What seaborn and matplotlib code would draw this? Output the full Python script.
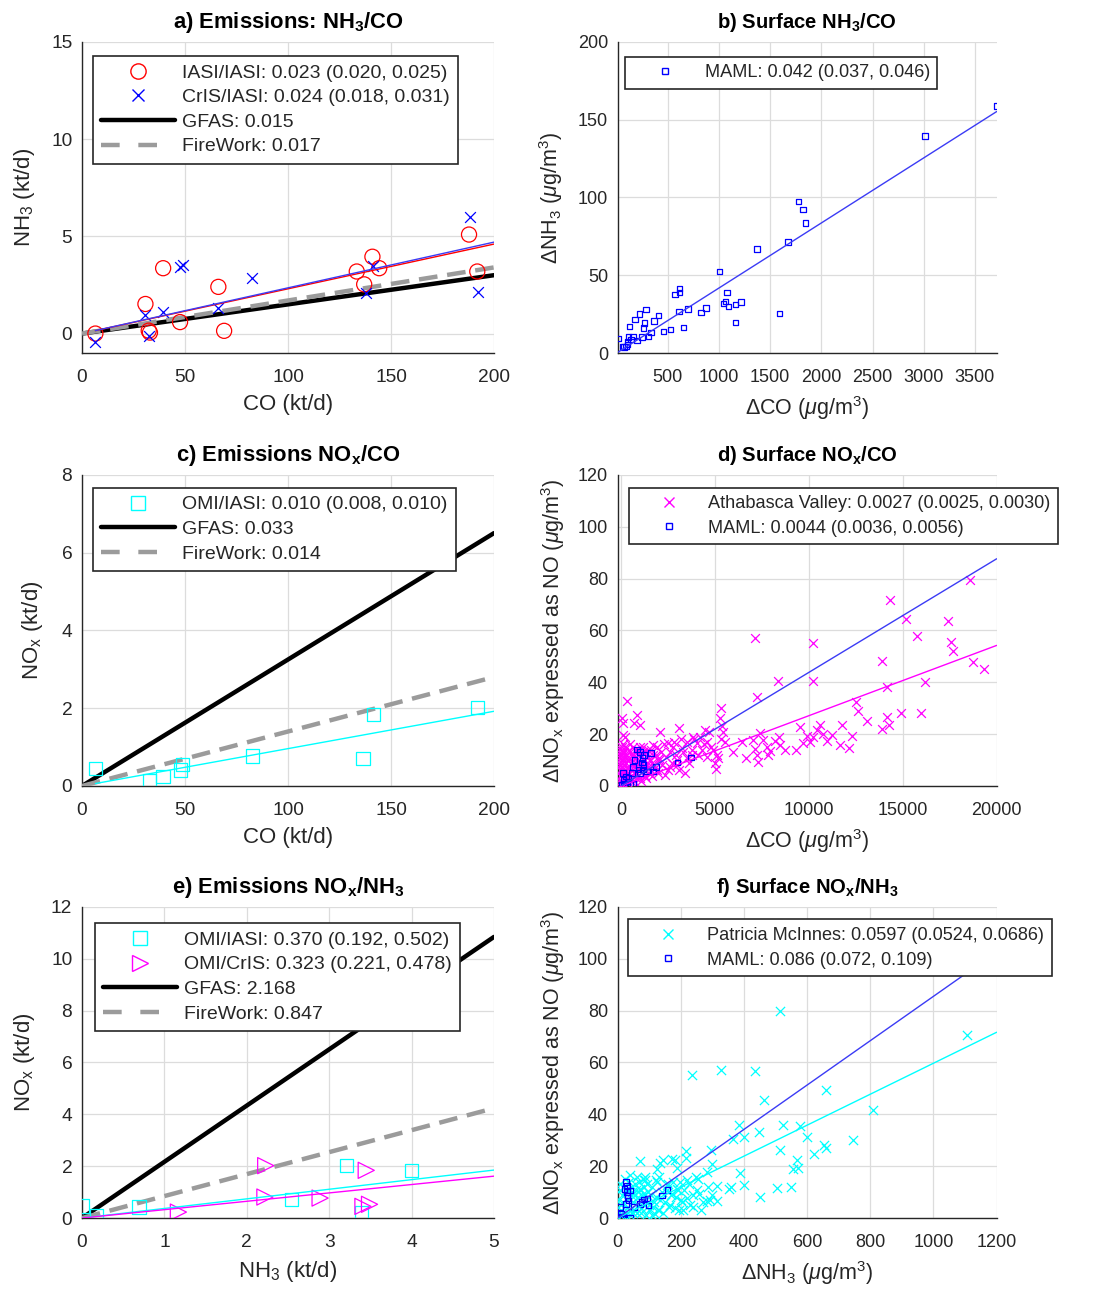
import numpy as np
import matplotlib
matplotlib.use("Agg")
import matplotlib.pyplot as plt
from matplotlib.lines import Line2D
import seaborn as sns

sns.set_style("white")
plt.rcParams['font.family'] = ['Liberation Sans', 'DejaVu Sans']
plt.rcParams['mathtext.fontset'] = 'custom'
plt.rcParams['mathtext.rm'] = 'Liberation Sans'
plt.rcParams['mathtext.it'] = 'Liberation Sans:italic'
plt.rcParams['mathtext.bf'] = 'Liberation Sans:bold'
plt.rcParams['mathtext.default'] = 'regular'

# ---------------- data ----------------
# a) emissions NH3 vs CO (kt/d)
a_iasi_co = [6.5, 30.8, 32.4, 33.0, 39.4, 47.6, 66.2, 69.0, 133.4, 137.0, 141.0, 144.3, 187.9, 191.9]
a_iasi_nh3 = [0.0, 1.52, 0.15, 0.05, 3.36, 0.59, 2.40, 0.14, 3.19, 2.53, 3.95, 3.36, 5.09, 3.19]
a_cris_co = [6.5, 30.8, 32.4, 39.4, 47.6, 49.0, 66.2, 82.6, 137.8, 141.5, 188.3, 192.4]
a_cris_nh3 = [-0.43, 0.95, -0.12, 1.12, 3.40, 3.50, 1.29, 2.88, 2.07, 3.45, 6.0, 2.16]
a_fit_slopes = [0.023, 0.0235]           # IASI/IASI, CrIS/IASI
a_inv_slopes = [0.015, 0.017]            # GFAS, FireWork
a_labels = ["IASI/IASI: 0.023 (0.020, 0.025)", "CrIS/IASI: 0.024 (0.018, 0.031)",
            "GFAS: 0.015", "FireWork: 0.017"]

# b) surface NH3 vs CO, MAML
b_maml_co = [12, 57, 74, 93, 106, 106, 116, 126, 139, 158, 181, 197, 223, 246, 262, 272, 288,
             311, 334, 367, 409, 458, 526, 572, 607, 614, 614, 653, 695, 822, 871, 1004, 1043,
             1063, 1076, 1092, 1161, 1161, 1216, 1369, 1590, 1675, 1776, 1818, 1844, 3012, 3712]
b_maml_nh3 = [9.2, 4.3, 3.9, 4.3, 5.4, 7.5, 10.3, 17.1, 8.6, 10.7, 21.4, 8.1, 25.1, 10.3, 16.1,
              19.3, 27.9, 10.7, 13.3, 20.4, 24.0, 13.9, 15.0, 37.7, 26.8, 41.4, 39.0, 16.5, 28.3,
              26.1, 28.9, 52.5, 31.7, 33.2, 39.0, 30.0, 31.1, 19.7, 32.8, 67.0, 25.3, 71.4, 97.5,
              92.1, 83.6, 139.3, 158.6]
b_fit_slope = 0.0418
b_labels = ["MAML: 0.042 (0.037, 0.046)"]

# c) emissions NOx vs CO (kt/d)
c_omi_co = [6.5, 32.7, 39.4, 47.9, 48.7, 82.8, 136.5, 141.4, 191.9]
c_omi_nox = [0.45, 0.13, 0.24, 0.41, 0.56, 0.77, 0.71, 1.84, 2.02]
c_fit_slope = 0.0096
c_inv_slopes = [0.0325, 0.014]           # GFAS, FireWork
c_labels = ["OMI/IASI: 0.010 (0.008, 0.010)", "GFAS: 0.033", "FireWork: 0.014"]

# d) surface NOx vs CO: Athabasca Valley (x) and MAML (squares)
d_athabasca = np.array([
    [7134, 56.9], [7241, 34.4], [8376, 40.6], [10240, 55.2], [10240, 40.6], [14321, 71.9],
    [13877, 48.3], [14144, 38.0], [15155, 64.2], [15741, 58.0], [17427, 63.5], [17551, 55.5],
    [17693, 52.0], [18581, 79.6], [18758, 47.9], [19343, 45.2], [16185, 40.2], [15972, 28.2],
    [14889, 28.2], [12511, 32.5], [12635, 28.9], [13079, 25.2], [13877, 22.0], [14144, 26.7],
    [14286, 23.5], [12298, 19.4], [12156, 14.5], [11748, 23.4], [11660, 15.8], [11216, 19.6],
    [10950, 17.5], [10737, 20.0], [10595, 23.5], [10418, 21.6], [10240, 18.7], [10062, 17.1],
    [9885, 19.3], [9707, 16.4], [9530, 22.8], [9317, 13.9], [8731, 13.9], [8465, 15.8],
    [8429, 19.0], [8198, 17.5], [7933, 13.6], [7844, 11.9], [7755, 15.1], [7542, 17.7],
    [7400, 20.3], [7311, 9.4], [7258, 11.9], [7134, 14.1], [7045, 17.7], [6655, 10.7],
    [6442, 17.1], [5981, 13.2], [5537, 17.1], [5413, 20.9], [5306, 29.9], [5271, 26.1],
    [5182, 10.7], [5058, 6.4], [5004, 8.7], [4916, 13.9], [4561, 17.1], [4472, 21.6],
    [4295, 13.9], [4028, 16.4], [3851, 19.0], [3762, 11.9], [3496, 10.7], [3407, 4.9],
    [3230, 14.5], [3106, 22.5], [2964, 8.1], [2786, 15.1], [2609, 7.4], [2520, 16.7],
    [2343, 4.2], [2076, 20.9], [2041, 10.7], [1899, 6.2], [1721, 15.8], [1544, 10.0],
    [1366, 6.8], [1012, 23.7], [834, 27.3], [692, 24.1], [302, 32.9], [124, 24.1],
    [35, 26.4], [124, 19.6], [231, 19.0],
    [50, 1], [80, 3], [120, 5], [150, 8], [200, 2], [30, 12], [60, 15], [100, 10], [180, 13],
    [220, 6], [260, 9], [300, 4], [350, 11], [400, 7], [420, 14], [480, 3], [520, 9], [560, 12],
    [600, 6], [650, 15], [700, 2], [750, 8], [800, 11], [850, 5], [900, 14], [950, 9], [1000, 3],
    [1050, 12], [1100, 7], [1150, 15], [1200, 10], [1250, 4], [1300, 13], [1400, 8], [1450, 11],
    [1500, 5], [1600, 14], [1650, 9], [1700, 12], [1800, 7], [1900, 15], [2000, 10], [2100, 13],
    [2200, 8], [2300, 16], [2400, 11], [2500, 6], [2600, 13], [2700, 9], [2800, 17], [2900, 12],
    [3000, 10], [3100, 6], [3200, 18], [3300, 13], [3500, 17], [3600, 9], [3800, 14], [3900, 18],
    [4100, 12], [4200, 19], [4400, 16], [4600, 11], [4700, 21], [4800, 15], [5100, 12],
    [5300, 18], [5400, 23],
    [20, 2], [40, 6], [70, 9], [90, 13], [110, 1], [130, 4], [160, 11], [190, 15], [240, 3],
    [280, 12], [320, 7], [360, 1], [380, 10], [440, 5], [460, 16], [500, 13], [540, 2], [580, 8],
    [620, 11], [680, 5], [720, 14], [780, 3], [820, 9], [880, 7], [920, 12], [980, 6], [1020, 15],
    [1080, 2], [1130, 9], [1180, 13], [1230, 6], [1280, 10], [1350, 3], [1420, 14], [1480, 7],
    [1550, 10], [1620, 4], [1750, 8], [1850, 12], [1950, 5], [10, 4], [15, 8], [25, 11],
    [35, 14], [45, 0.5], [55, 7], [65, 10], [75, 13], [85, 16], [95, 5]])
d_maml = np.array([
    [834, 14.1], [710, 10.0], [621, 7.4], [568, 5.1], [1012, 13.2], [1100, 9.0], [1136, 10.7],
    [1189, 8.1], [1225, 11.9], [1366, 5.5], [1597, 12.8], [1721, 5.5], [1863, 7.4],
    [2999, 9.0], [3709, 11.0], [89, 4.9], [124, 2.3], [160, 1.0], [231, 0.4], [337, 1.7],
    [479, 1.0], [621, 0.8], [390, 3.0], [266, 3.6], [35, 0.4], [1012, 4.9], [923, 6.4],
    [1154, 6.4]])
d_fit_slopes = [0.00271, 0.00438]        # Athabasca Valley, MAML
d_labels = ["Athabasca Valley: 0.0027 (0.0025, 0.0030)", "MAML: 0.0044 (0.0036, 0.0056)"]

# e) emissions NOx vs NH3 (kt/d)
e_iasi_nh3 = [0.004, 0.18, 0.69, 2.54, 3.21, 3.39, 4.0]
e_iasi_nox = [0.47, 0.09, 0.42, 0.71, 2.03, 0.22, 1.84]
e_cris_nh3 = [1.17, 2.22, 2.23, 2.89, 3.41, 3.49, 3.45]
e_cris_nox = [0.23, 0.81, 2.02, 0.77, 0.45, 0.53, 1.84]
e_fit_slopes = [0.370, 0.323]            # OMI/IASI, OMI/CrIS
e_inv_slopes = [2.168, 0.847]            # GFAS, FireWork
e_labels = ["OMI/IASI: 0.370 (0.192, 0.502)", "OMI/CrIS: 0.323 (0.221, 0.478)",
            "GFAS: 2.168", "FireWork: 0.847"]

# f) surface NOx vs NH3: Patricia McInnes (x) and MAML (squares)
f_mcinnes = np.array([
    [513, 79.9], [1105, 70.5], [809, 41.8], [235, 55.3], [326, 57.2], [436, 56.6], [464, 45.4],
    [661, 49.5], [385, 36.0], [401, 31.3], [448, 33.2], [364, 30.6], [523, 36.0], [576, 35.4],
    [599, 31.3], [513, 26.4], [568, 22.5], [555, 19.0], [571, 19.3], [623, 24.8], [652, 28.0],
    [661, 27.1], [745, 30.2], [504, 11.7], [549, 12.0], [452, 8.1], [401, 12.9], [386, 17.4],
    [351, 11.3], [358, 12.0], [316, 6.6], [314, 12.2], [298, 8.7], [293, 6.8], [282, 6.4],
    [298, 20.7], [296, 26.1], [282, 17.7], [259, 9.4], [248, 15.8], [217, 25.9], [217, 23.2],
    [219, 14.5], [219, 7.7], [203, 6.2], [187, 19.3], [182, 22.3], [171, 22.9], [161, 4.2],
    [145, 22.3], [134, 21.2], [124, 19.0], [122, 14.8], [113, 4.2], [71, 21.9], [85, 14.8],
    [87, 9.4], [50, 9.4], [39, 16.5], [71, 11.3], [155, 12.6], [171, 9.4], [187, 11.3],
    [198, 13.9], [208, 3.0], [240, 4.2], [118, 1.7], [129, 3.2],
    [5, 2], [10, 5], [15, 9], [20, 12], [25, 1], [30, 7], [35, 14], [40, 3], [45, 10], [50, 6],
    [55, 13], [60, 2], [65, 8], [70, 11], [75, 4], [80, 15], [85, 7], [90, 1], [95, 10],
    [100, 5], [110, 12], [120, 8], [130, 3], [140, 10], [150, 6], [160, 13], [170, 9], [180, 4],
    [190, 11], [3, 7], [8, 11], [12, 3], [18, 6], [22, 15], [28, 4], [33, 10], [38, 1], [42, 12],
    [48, 8], [53, 3], [58, 11], [63, 5], [68, 14], [73, 2], [78, 9], [83, 12], [88, 5], [93, 13],
    [98, 3], [105, 9], [115, 6], [125, 14], [135, 7], [145, 2], [155, 11], [165, 5], [175, 14],
    [185, 8], [195, 3], [210, 11], [225, 13], [240, 9], [255, 15], [270, 6], [285, 12],
    [2, 0.5], [7, 13], [14, 1], [26, 11], [47, 2], [62, 16], [88, 16], [110, 1], [130, 16],
    [200, 7], [230, 5], [250, 11], [265, 3]])
f_maml = np.array([
    [7, 0.4], [7, 4.2], [10, 1.7], [13, 0.0], [18, 0.4], [26, 13.9], [29, 12.6], [29, 10.0],
    [31, 7.8], [34, 6.8], [31, 8.7], [39, 10.7], [39, 0.0], [52, 4.2], [71, 5.5], [76, 6.2],
    [84, 7.1], [94, 7.5], [97, 4.9], [140, 8.7], [157, 10.9], [26, 5.5], [21, 11.3]])
f_fit_slopes = [0.0597, 0.0855]          # Patricia McInnes, MAML
f_labels = ["Patricia McInnes: 0.0597 (0.0524, 0.0686)", "MAML: 0.086 (0.072, 0.109)"]

# ---------------- styling ----------------
RED, BLUE, CYAN, MAG, GRAY = '#ff0000', '#0000ff', '#00ffff', '#ff00ff', '#9b9b9b'
FIT_BLUE = '#3b3bf5'
TXT = '#262626'
# font sizes per column (left panels are drawn slightly larger in the original)
FS_LEFT = dict(tick=13.8, lab=16.0, title=15.8, leg=14.0)
FS_RIGHT = dict(tick=13.0, lab=15.5, title=14.6, leg=13.1)

fig = plt.figure(figsize=(11.08, 12.94), dpi=100)
L1, W1 = 0.074, 0.3718
L2, W2 = 0.5575, 0.3420
H = 0.2405
B1, B2, B3 = 0.7272, 0.3926, 0.0587
ax_a = fig.add_axes([L1, B1, W1, H])
ax_b = fig.add_axes([L2, B1, W2, H])
ax_c = fig.add_axes([L1, B2, W1, H])
ax_d = fig.add_axes([L2, B2, W2, H])
ax_e = fig.add_axes([L1, B3, W1, H])
ax_f = fig.add_axes([L2, B3, W2, H])


def style(ax, fs, xlim, ylim, xticks, yticks, title, xlabel, ylabel, ylabpad=9):
    ax.set_xlim(*xlim)
    ax.set_ylim(*ylim)
    ax.set_xticks(xticks)
    ax.set_yticks(yticks)
    ax.grid(True, color='#dcdcdc', lw=0.9, zorder=0)
    ax.set_axisbelow(True)
    for s in ['top', 'right']:
        ax.spines[s].set_visible(False)
    for s in ['left', 'bottom']:
        ax.spines[s].set_color(TXT)
        ax.spines[s].set_linewidth(1.0)
    ax.tick_params(direction='in', length=4, width=1.0, color=TXT, labelcolor=TXT,
                   labelsize=fs['tick'])
    ax.tick_params(axis='x', pad=11.5)
    ax.tick_params(axis='y', pad=7)
    ax.set_title(title, fontsize=fs['title'], fontweight='bold', color='black', pad=10)
    ax.set_xlabel(xlabel, fontsize=fs['lab'], color=TXT, labelpad=6)
    ax.set_ylabel(ylabel, fontsize=fs['lab'], color=TXT, labelpad=ylabpad)


def legend(ax, fs, handles, labels, anchor, hl, ls):
    leg = ax.legend(handles, labels, loc='upper left', bbox_to_anchor=anchor,
                    bbox_transform=ax.transAxes, borderaxespad=0, frameon=True,
                    fancybox=False, edgecolor=TXT, framealpha=1, fontsize=fs['leg'],
                    handlelength=hl, handletextpad=0.36, labelspacing=ls,
                    borderpad=0.42, numpoints=1)
    leg.get_frame().set_linewidth(1.2)
    for t in leg.get_texts():
        t.set_color(TXT)
    leg.set_zorder(20)
    return leg


def mk(marker, color, ms, mew=1.0):
    return Line2D([], [], ls='none', marker=marker, color=color, mfc='none', mec=color,
                  ms=ms, mew=mew)


mu = r'$\mathit{\mu}$'

# ---- a ----
ax = ax_a
x_full = np.array([0.0, 200.0])
ax.plot(x_full, a_inv_slopes[0] * x_full, color='black', lw=3.2, zorder=3)
ax.plot(x_full, a_inv_slopes[1] * x_full, color=GRAY, lw=3.2, dashes=(4.2, 2.2), zorder=3)
sns.scatterplot(x=a_iasi_co, y=a_iasi_nh3, ax=ax, marker='o', s=118, color=RED,
                facecolor='none', edgecolor=RED, linewidth=0.9, zorder=4)
sns.scatterplot(x=a_cris_co, y=a_cris_nh3, ax=ax, marker='x', s=60, color=BLUE,
                linewidth=0.9, zorder=4)
xr = np.array([min(a_iasi_co), 200.0])
ax.plot(xr, a_fit_slopes[0] * xr, color=RED, lw=1.0, zorder=5)
xb = np.array([min(a_cris_co), 200.0])
ax.plot(xb, a_fit_slopes[1] * xb, color=FIT_BLUE, lw=1.0, zorder=5)
style(ax, FS_LEFT, (0, 200), (-1, 15), [0, 50, 100, 150, 200], [0, 5, 10, 15],
      r'a) Emissions: NH$_3$/CO', 'CO (kt/d)', r'NH$_3$ (kt/d)', ylabpad=10)
legend(ax, FS_LEFT, [mk('o', RED, 11), mk('x', BLUE, 8),
                     Line2D([], [], color='black', lw=3.2),
                     Line2D([], [], color=GRAY, lw=3.2, dashes=(4.2, 4.2))],
       a_labels, (0.027, 0.955), 3.8, 0.36)

# ---- b ----
ax = ax_b
sns.scatterplot(x=b_maml_co, y=b_maml_nh3, ax=ax, marker='s', s=16, color=BLUE,
                facecolor='none', edgecolor=BLUE, linewidth=0.9, zorder=4)
xr = np.array([0.0, 3712.0])
ax.plot(xr, b_fit_slope * xr, color=FIT_BLUE, lw=1.0, zorder=5)
style(ax, FS_RIGHT, (10, 3712), (0, 200), [500, 1000, 1500, 2000, 2500, 3000, 3500],
      [0, 50, 100, 150, 200], r'b) Surface NH$_3$/CO',
      r'ΔCO (' + mu + r'g/m$^3$)', r'ΔNH$_3$ (' + mu + r'g/m$^3$)', ylabpad=9)
legend(ax, FS_RIGHT, [mk('s', BLUE, 4.2)], b_labels, (0.019, 0.952), 3.6, 0.42)

# ---- c ----
ax = ax_c
x_full = np.array([0.0, 200.0])
ax.plot(x_full, c_inv_slopes[0] * x_full, color='black', lw=3.2, zorder=3)
ax.plot(x_full, c_inv_slopes[1] * x_full, color=GRAY, lw=3.2, dashes=(4.2, 2.2), zorder=3)
sns.scatterplot(x=c_omi_co, y=c_omi_nox, ax=ax, marker='s', s=92, color=CYAN,
                facecolor='none', edgecolor=CYAN, linewidth=0.9, zorder=4)
xr = np.array([min(c_omi_co), 200.0])
ax.plot(xr, c_fit_slope * xr, color=CYAN, lw=1.0, zorder=5)
style(ax, FS_LEFT, (0, 200), (0, 8), [0, 50, 100, 150, 200], [0, 2, 4, 6, 8],
      r'c) Emissions NO$_x$/CO', 'CO (kt/d)', r'NO$_x$ (kt/d)', ylabpad=12)
legend(ax, FS_LEFT, [mk('s', CYAN, 9.5), Line2D([], [], color='black', lw=3.2),
                     Line2D([], [], color=GRAY, lw=3.2, dashes=(4.2, 4.2))],
       c_labels, (0.027, 0.959), 3.8, 0.36)

# ---- d ----
ax = ax_d
sns.scatterplot(x=d_athabasca[:, 0], y=d_athabasca[:, 1], ax=ax, marker='x', s=40,
                color=MAG, linewidth=0.9, zorder=3)
sns.scatterplot(x=d_maml[:, 0], y=d_maml[:, 1], ax=ax, marker='s', s=16, color=BLUE,
                facecolor='none', edgecolor=BLUE, linewidth=0.9, zorder=4)
xr = np.array([0.0, 20000.0])
ax.plot(xr, d_fit_slopes[0] * xr, color=MAG, lw=1.0, zorder=5)
ax.plot(xr, d_fit_slopes[1] * xr, color=FIT_BLUE, lw=1.0, zorder=5)
style(ax, FS_RIGHT, (-180, 20000), (0, 120), [0, 5000, 10000, 15000, 20000],
      [0, 20, 40, 60, 80, 100, 120], r'd) Surface NO$_x$/CO',
      r'ΔCO (' + mu + r'g/m$^3$)', r'ΔNO$_x$ expressed as NO (' + mu + r'g/m$^3$)', ylabpad=8)
legend(ax, FS_RIGHT, [mk('x', MAG, 6.5), mk('s', BLUE, 4.2)], d_labels, (0.029, 0.959),
       3.6, 0.42)

# ---- e ----
ax = ax_e
x_full = np.array([0.0, 5.0])
ax.plot(x_full, e_inv_slopes[0] * x_full, color='black', lw=3.2, zorder=3)
ax.plot(x_full, e_inv_slopes[1] * x_full, color=GRAY, lw=3.2, dashes=(4.2, 2.2), zorder=3)
sns.scatterplot(x=e_iasi_nh3, y=e_iasi_nox, ax=ax, marker='s', s=92, color=CYAN,
                facecolor='none', edgecolor=CYAN, linewidth=0.9, zorder=4)
sns.scatterplot(x=e_cris_nh3, y=e_cris_nox, ax=ax, marker='>', s=135, color=MAG,
                facecolor='none', edgecolor=MAG, linewidth=0.9, zorder=4)
ax.plot(x_full, e_fit_slopes[0] * x_full, color=CYAN, lw=1.0, zorder=5)
ax.plot(x_full, e_fit_slopes[1] * x_full, color=MAG, lw=1.0, zorder=5)
style(ax, FS_LEFT, (0, 5), (0, 12), [0, 1, 2, 3, 4, 5], [0, 2, 4, 6, 8, 10, 12],
      r'e) Emissions NO$_x$/NH$_3$', r'NH$_3$ (kt/d)', r'NO$_x$ (kt/d)', ylabpad=10)
legend(ax, FS_LEFT, [mk('s', CYAN, 9.5), mk('>', MAG, 11.5), Line2D([], [], color='black', lw=3.2),
                     Line2D([], [], color=GRAY, lw=3.2, dashes=(4.2, 4.2))],
       e_labels, (0.032, 0.948), 3.8, 0.36)

# ---- f ----
ax = ax_f
sns.scatterplot(x=f_mcinnes[:, 0], y=f_mcinnes[:, 1], ax=ax, marker='x', s=44, color=CYAN,
                linewidth=0.9, zorder=3)
sns.scatterplot(x=f_maml[:, 0], y=f_maml[:, 1], ax=ax, marker='s', s=16, color=BLUE,
                facecolor='none', edgecolor=BLUE, linewidth=0.9, zorder=4)
xr = np.array([0.0, 1200.0])
ax.plot(xr, f_fit_slopes[0] * xr, color=CYAN, lw=1.0, zorder=5)
ax.plot(xr, f_fit_slopes[1] * xr, color=FIT_BLUE, lw=1.0, zorder=5)
style(ax, FS_RIGHT, (0, 1200), (0, 120), [0, 200, 400, 600, 800, 1000, 1200],
      [0, 20, 40, 60, 80, 100, 120], r'f) Surface NO$_x$/NH$_3$',
      r'ΔNH$_3$ (' + mu + r'g/m$^3$)', r'ΔNO$_x$ expressed as NO (' + mu + r'g/m$^3$)', ylabpad=8)
legend(ax, FS_RIGHT, [mk('x', CYAN, 6.5), mk('s', BLUE, 4.2)], f_labels, (0.026, 0.960),
       3.6, 0.42)

fig.savefig('out.png', dpi=100)
